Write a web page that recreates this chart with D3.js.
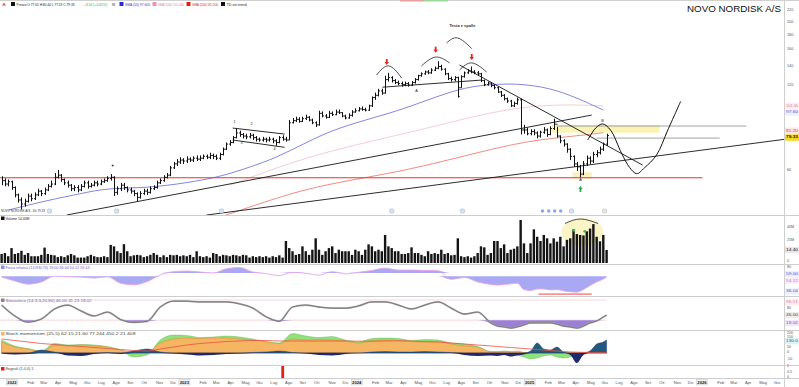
<!DOCTYPE html>
<html>
<head>
<meta charset="utf-8">
<title>NOVO NORDISK A/S</title>
<script src="https://cdn.jsdelivr.net/npm/d3@7.9.0/dist/d3.min.js"></script>
<style>
  html, body { margin: 0; padding: 0; background: #fff; }
  svg { display: block; font-family: "Liberation Sans", Arial, sans-serif; }
</style>
</head>
<body>
<svg id="chart" width="799" height="387"></svg>
<script>
// weekly bars, first one on 10 Dec 2021
const closes = [
  55,53.5,54.5,52,49,47,45.5,46.5,48.5,47.5,
  49,50.5,49.5,51,52.5,53.5,56.5,57.5,55.5,54,
  53,51.5,52,51,52.5,54,52.5,53,54,53.5,
  54.5,55,56,56.5,50,51.5,53,52,51,50.5,
  49.5,48,49.5,50.5,50,51.5,52,54,55,56.5,
  57.5,61,63,64,65,64.5,65.5,65,66,65.5,
  66,67,66.5,67.5,67,66,68,71,74,75,
  78,81,80,79,78.5,79.5,78,77,76.5,77,
  76.5,77,76,75,78,77,76.5,88,89.5,90.5,
  89,91,92,90,88,86.5,95,93,92,95,
  94,96,95.5,93,91.5,93.5,96,97,98.5,98,
  97.5,101,108,110,114,112,125,127,124,122,
  121,120,121,119.5,122,125,129,131,133,132,
  135,137,139,136,131,126,125,127,117,128,
  132,134,133,132,131,124,120,121.5,119,117,
  113,110,107,105,101,103,106,83,83,80.5,
  82,81,79,81.5,83,80,84,87,79,76,
  74,71,67,63,61.5,58,63,66,64.5,68,
  69,71,74,79.33
];
const highs = [
  57,56,55.5,55,52.5,49.5,48,47.5,49.5,49.5,
  50,51.5,51,52,53.5,55,58.5,60,58,56,
  55,53.5,53,53,53.5,55,55,54,55,55,
  55.5,56,57,58,57,52.5,54,54,52.5,52,
  51,50,50.5,51.5,51.5,52.5,53,55,56,57.5,
  58.5,62,64,65.5,66.5,66,67,66.5,67,67.5,
  67.5,68,68,69,68.5,68,69,72,75,76.5,
  79,84,82.5,81,80.5,81,80.5,79,78,78.5,
  78,78.5,78,77,79,79.5,78.5,90,91.5,92.5,
  92,92.5,94,93,91,89,97,96.5,94.5,97,
  96.5,98,98,96,94,95,97.5,99,100,100.5,
  99.5,102,109,112.5,116,116,129,132,128.5,125.5,
  124,123,123,122.5,123.5,126.5,130,132.5,134.5,135,
  137,139,145,141,137,132,128,128.5,128,129.5,
  133.5,136,139,135,134,132,125,123,122.5,120,
  118,114,111,108,106,104.5,108,107,86.5,84.5,
  83.5,83.5,82,82.5,85,84,85.5,91,85,79.5,
  77,74.5,71.5,67.5,64,62.5,64.5,67.5,67,69.5,
  70.5,72.5,75,80.5
];
const lows = [
  53,52.5,52.5,51,48,46,43.5,44.5,46,46.5,
  47,48.5,48.5,49,50.5,52,53,56,54.5,53,
  52,50.5,50.5,50,50.5,52,51.5,52,52.5,52.5,
  53,54,54.5,55,48.5,49,50.5,51,50,49.5,
  48.5,46.5,47.5,49,49,49.5,51,51.5,53.5,54.5,
  56,57,60.5,62,63,63,63.5,64,64,64.5,
  64.5,65.5,65.5,65.5,65.5,65,65,67.5,70.5,73,
  74.5,77.5,78.5,77.5,77,77.5,76.5,75.5,75.5,75.5,
  75,75.5,74.5,73,74.5,76,75.5,76.5,87.5,88.5,
  88,88.5,90,89,87,85,86,92,91,91.5,
  93,93.5,94.5,92,90.5,91,92.5,95.5,96.5,97,
  96.5,97,100,106,109,110.5,111.5,123,122,120.5,
  119.5,118,118.5,118,118.5,121,124,128,130,130.5,
  131,134,136,134.5,129.5,124.5,123,123.5,108,117,
  127,131,131.5,130.5,129,122.5,118.5,119,117.5,115.5,
  112,108.5,105.5,103.5,100,100,102,80,80.5,79.5,
  79.5,79.5,77.5,78,80.5,78.5,79.5,83,78,74.5,
  72.5,69,65,61.5,59.5,56.5,57.5,62,63,63.5,
  66.5,68,70,73
];
// volume in millions
const volumes = [
  10,11,7.5,16.5,10,11,13.5,9,11,7.5,
  7.5,7.5,9,17,10,9,8.5,6.5,7.5,6.5,
  8.5,10,8.5,6,6,6,7.5,9,7.5,6.5,
  6.5,7.5,6.5,20,18.4,13,11,20.8,13,7.5,
  8.5,9,8.5,6.5,7.5,9,11,9,6.5,8.5,
  6.5,9,8.5,9,7.5,8.5,7.5,9,6.5,13,
  7.5,6.5,7.5,6,11,10,7.5,9,8.5,7.5,
  9,8.5,7.5,9,8.5,6,7.5,6.5,7.5,6.5,
  7.5,6,7.5,6.5,8.5,6,24.3,16.5,13,9,
  10,18.4,13,9,14.7,27.3,14.7,9,13,16.5,
  18.4,11,14.7,13,13,13,9,14.7,13,9,
  14.7,20.6,18.4,13,14.7,13,31,18.4,16.5,13,
  13,10,10,11,17.3,11,11,9,7.5,13,
  10,11,10,14.7,10,11,8.5,9,27.3,7.5,
  6.5,7.5,6,7.5,11,18.4,17.3,9,11,24.3,
  24.3,16.5,20.6,11,14.7,15.8,18.4,47.5,21.7,11,
  21.7,37.2,29,24.3,31,27.3,21.7,27.3,23.6,29,
  18.4,25.6,27.3,37.2,32,31,30.5,35,38,43,
  29,24,31,14.4
];

// oscillators, read at these bar indices
const oscIdx = d3.range(0, 149, 4).concat(d3.range(150, 183, 2), [183]);
const rsi = [
  59,47,37,44,62,60,59,56,60,40,35,45,66,76,78,75,72,85,89,75,
  70,64,74,71,65,76,69,74,80,87,81,81,80,79,52,58,44,36,
  34,36,38,40,20,17,22,22,19,20,16,13,12,20,33,44,53,59
];
const stoch = [
  82,43,21,32,68,82,61,43,57,30,20,24,75,96,96,93,93,93,86,71,
  40,24,75,82,75,71,71,79,93,93,82,68,82,93,71,50,57,18,
  7,4,0,4,11,18,18,18,18,14,7,4,0,7,18,25,39,46
];
const momOrange = [
  110,60,40,15,75,70,80,70,60,30,10,10,100,140,150,145,150,150,140,130,
  110,95,140,130,135,130,120,100,120,130,125,115,110,110,90,70,60,10,
  10,15,15,20,5,0,0,0,0,0,0,0,0,5,10,10,10,10
];
const momGreen = [
  130,70,45,20,95,80,85,80,65,30,-40,-20,130,180,175,155,160,170,160,140,
  115,100,195,170,155,165,130,110,145,150,145,125,135,130,100,90,65,15,
  15,20,10,-20,-40,-60,-50,-30,-20,-40,-50,-40,-20,0,0,0,0,0
];
const momNavy = [
  -5,-15,-10,30,10,-25,-30,-10,5,-10,20,40,10,-5,-15,-25,-20,-10,-5,5,
  10,20,5,-5,-20,-25,-10,0,10,15,10,10,15,10,5,-20,-30,-25,
  -30,-20,-35,-25,-15,20,100,40,30,60,10,-20,-100,-20,20,90,110,130
];
const momRed = [
  140,125,110,95,85,75,65,55,45,35,25,20,40,60,80,95,105,115,120,125,
  125,120,120,120,120,120,120,118,118,120,122,120,115,110,100,90,80,70,
  65,60,55,50,45,40,35,30,25,20,15,10,8,6,5,5,5,5
];
const signalBars = [85];

// moving averages [bar index, price]
const sma50 = [[2,43.3],[14,46.9],[24,49.5],[32,51.8],[44,51.8],[56,54],[66,56.7],[75,61.3],[83,66.2],[92,74.8],
  [100,82.9],[110,90],[120,97.1],[128,105],[136,113.5],[144,119.6],[156,121.5],[166,116.7],[174,107.8],[182,97.6]];
const sma100 = [[69,53],[84,61.7],[100,70.5],[120,79.6],[136,88.5],[151,97.6],[166,102.5],[182,101]];
const sma200 = [[62,39.5],[68,41.6],[81,46.9],[96,53],[120,58.8],[141,67.7],[156,74.6],[166,77.5],[176,79.6],[182,81.2]];

// drawn studies [bar index, price]
const trendLines = [
  [[19.7,41.6],[178.5,93.7]],
  [[62,41.6],[237.4,77.1]],
  [[138.5,140.7],[193.9,62.4]],
  [[115.2,117.5],[145.2,124.5]],
  [[69.9,84.3],[85.6,80.3]],
  [[69.9,76.5],[85.6,72.1]]
];
const supportLine = [[-1,56.3],[212,56.3]];
const grayLevels = [[[167.9,85.7],[225.3,85.7]], [[180,77.7],[217.2,77.7]]];
const zoneBand = [[166.4,81.2],[199,86.4]];
const zoneLow = [[172.7,56],[178.5,58.9]];
const projection = [[177.3,76.5],[179.7,84.3],[181.8,87.2],[184.2,82.9],[187.5,68.8],[190,61.1],
  [192.1,58.2],[194.5,61.1],[198.1,67.7],[201.5,82.9],[205.4,104.7]];
const arcs = [
  [[113.4,129.7],[117.1,139.7],[121,126.6]],
  [[127,139.7],[131.3,150.1],[135.5,143.1]],
  [[138.5,135.1],[142.2,143.1],[146.7,133]],
  [[134.6,168.3],[137.9,175.3],[142.2,160.8]]
];
const downArrows = [[116.5,140.7],[131.3,155.5],[142.2,146.5]];
const upArrows = [[175.1,52.6]];
const marks = [["A",125.5,113.9],["•",138.5,108.3],["A",175.1,55.3],["B",181.8,89.3],["▼",33.6,62],
  ["1",70.5,88.5],["2",75.6,86.9],["3",72.6,74.6],["4",82.6,71]];
const studyTitle = ["Testa e spalle", 139.4, 191.9];
const rsiDivergence = [[162.4,6],[178.5,6]];
const events = [[14.5,"d"],[34.8,"d"],[66.5,"d"],[118,"d"],[139.4,"d"],[163.6,"e"],[165.5,"e"],[167.3,"e"],[169.1,"e"],[172.4,"d"],[182.4,"g"]];

const priceTicks = [220,200,180,160,140,120,60];
const monthNames = ["Gen","Feb","Mar","Apr","Mag","Giu","Lug","Ago","Set","Ott","Nov","Dic"];

// ---------------------------------------------------------------
const svg = d3.select("#chart");
const plotR = 784;
const firstBar = new Date(2021, 11, 10);
const x = d3.scaleTime().domain([new Date(2022, 0, 1), new Date(2026, 0, 1)]).range([12, 702]);
const xi = i => x(new Date(firstBar.getTime() + i * 7 * 864e5));

const yP = d3.scaleLog().domain([41.6, 223.6]).range([215, 8]);
const yV = d3.scaleLinear().domain([0, 42]).range([263, 225]);
const yR = d3.scaleLinear().domain([0, 100]).range([296, 264]);
const yS = d3.scaleLinear().domain([0, 100]).range([328, 300]);
const yM = d3.scaleLinear().domain([-100, 200]).range([363, 333]);
const yG = d3.scaleLinear().domain([0, 1]).range([378, 366]);

const defs = svg.append("defs");
function clip(id, y0, y1) {
  defs.append("clipPath").attr("id", id).append("rect")
    .attr("x", 0).attr("y", y0).attr("width", plotR).attr("height", y1 - y0);
  return svg.append("g").attr("clip-path", `url(#${id})`);
}

function txt(g, px, py, s, o = {}) {
  const t = g.append("text").attr("x", px).attr("y", py).text(s)
    .attr("font-size", o.size || 4.2).attr("fill", o.fill || "#333");
  if (o.anchor) t.attr("text-anchor", o.anchor);
  if (o.weight) t.attr("font-weight", o.weight);
  if (o.len) t.attr("textLength", o.len).attr("lengthAdjust", "spacingAndGlyphs");
  if (o.mid) t.attr("dominant-baseline", "middle");
  return t;
}

// top strip
svg.append("line").attr("x1", 0).attr("x2", 799).attr("y1", 0.5).attr("y2", 0.5).attr("stroke", "#d0d0d0");
svg.append("rect").attr("x", 400).attr("y", 0).attr("width", 24).attr("height", 1.5).attr("fill", "#e9a0a0");
svg.append("rect").attr("x", 424).attr("y", 0).attr("width", 24).attr("height", 1.5).attr("fill", "#9fd49a");

// ---------- main price panel ----------
const main = clip("cMain", 8, 215);
const pt = d3.line().x(d => xi(d[0])).y(d => yP(d[1]));

main.append("rect")
  .attr("x", xi(zoneBand[0][0])).attr("width", xi(zoneBand[1][0]) - xi(zoneBand[0][0]))
  .attr("y", yP(zoneBand[1][1])).attr("height", yP(zoneBand[0][1]) - yP(zoneBand[1][1]))
  .attr("fill", "#fbf3b4");
main.append("rect")
  .attr("x", xi(zoneLow[0][0])).attr("width", xi(zoneLow[1][0]) - xi(zoneLow[0][0]))
  .attr("y", yP(zoneLow[1][1])).attr("height", yP(zoneLow[0][1]) - yP(zoneLow[1][1]))
  .attr("fill", "#fbefc0");

const maLine = d3.line().x(d => xi(d[0])).y(d => yP(d[1])).curve(d3.curveBasis);
main.append("path").attr("d", maLine(sma100)).attr("fill", "none").attr("stroke", "#f6cdd3").attr("stroke-width", 1);
main.append("path").attr("d", maLine(sma200)).attr("fill", "none").attr("stroke", "#f28b80").attr("stroke-width", 1);
main.append("path").attr("d", maLine(sma50)).attr("fill", "none").attr("stroke", "#8585e0").attr("stroke-width", 1);

main.append("path").attr("d", pt(supportLine)).attr("stroke", "#e8352c").attr("stroke-width", 1.2);
grayLevels.forEach(l => main.append("path").attr("d", pt(l)).attr("stroke", "#8d8d8d").attr("stroke-width", 0.8));
trendLines.forEach(l => main.append("path").attr("d", pt(l)).attr("stroke", "#151515").attr("stroke-width", 0.9));

// OHLC bars (open = previous close)
main.append("g").attr("stroke", "#111").attr("stroke-width", 1).attr("fill", "none")
  .selectAll("path").data(closes).join("path")
  .attr("d", (c, i) => {
    const cx = Math.round(xi(i)) + 0.5;
    let d = `M${cx},${yP(highs[i])}V${yP(lows[i])}M${cx},${yP(c)}H${cx + 1.4}`;
    if (i > 0) d += `M${cx - 1.4},${yP(closes[i - 1])}H${cx}`;
    return d;
  });

main.append("path").attr("d", d3.line().x(d => xi(d[0])).y(d => yP(d[1])).curve(d3.curveCatmullRom)(projection))
  .attr("fill", "none").attr("stroke", "#111").attr("stroke-width", 1);
arcs.forEach(a => main.append("path").attr("d", d3.line().x(d => xi(d[0])).y(d => yP(d[1])).curve(d3.curveNatural)(a))
  .attr("fill", "none").attr("stroke", "#222").attr("stroke-width", 0.8));

main.selectAll("path.dn").data(downArrows).join("path").attr("class", "dn")
  .attr("transform", d => `translate(${xi(d[0])},${yP(d[1])})`)
  .attr("d", "M0,0L-2.2,-3H-0.9V-6H0.9V-3H2.2Z").attr("fill", "#e5231b");
main.selectAll("path.up").data(upArrows).join("path").attr("class", "up")
  .attr("transform", d => `translate(${xi(d[0])},${yP(d[1])})`)
  .attr("d", "M0,0L-2.2,3H-0.9V6H0.9V3H2.2Z").attr("fill", "#2ea84a");
marks.forEach(m => txt(main, xi(m[1]), yP(m[2]), m[0], { size: 3.8, fill: "#222", anchor: "middle", mid: true }));
txt(main, xi(studyTitle[1]), yP(studyTitle[2]), studyTitle[0], { size: 3.8, fill: "#333", anchor: "middle", weight: "bold", len: 26 });

// event icons on the price panel bottom
events.forEach(e => {
  const ex = xi(e[0]);
  if (e[1] === "e") main.append("circle").attr("cx", ex).attr("cy", 211).attr("r", 1.7).attr("fill", "#86a9e8");
  else main.append("rect").attr("x", ex - 2).attr("y", 209).attr("width", 4).attr("height", 4).attr("rx", 0.8)
    .attr("fill", e[1] === "g" ? "#e6e6e6" : "#dbe3ef").attr("stroke", e[1] === "g" ? "#bbb" : "#9fb0c8").attr("stroke-width", 0.5);
});

txt(svg, 1, 212, "NOVO NORDISK A/S - Dk   79.33", { size: 3.4, fill: "#333", len: 44 });

// ---------- volume ----------
const vol = clip("cVol", 215, 264);
vol.append("ellipse").attr("cx", xi(175.7)).attr("cy", yV(34.3)).attr("rx", 21).attr("ry", 14).attr("fill", "#fbf4c6");
vol.append("g").attr("fill", "#151515").selectAll("rect").data(volumes).join("rect")
  .attr("x", (v, i) => xi(i) - 1.2).attr("width", 2.4)
  .attr("y", v => yV(v)).attr("height", v => yV(0) - yV(v));
vol.append("path").attr("d", d3.line().curve(d3.curveNatural)([[xi(170.4), 223.5], [xi(175.1), 219], [xi(180.4), 223.5]]))
  .attr("fill", "none").attr("stroke", "#222").attr("stroke-width", 0.8);
[[173.1, 36], [176.4, 35]].forEach(p => vol.append("circle").attr("cx", xi(p[0])).attr("cy", yV(p[1])).attr("r", 1.4).attr("fill", "#3cb94a"));

// ---------- RSI-like ----------
const rsiG = clip("cRsi", 264, 296);
const rsiPts = oscIdx.map((k, j) => [k, rsi[j]]);
const rsiUp = 72, rsiLo = 62;
rsiG.append("path").attr("fill", "#a9a9f3")
  .attr("d", d3.area().x(d => xi(d[0])).y0(yR(rsiUp)).y1(d => yR(Math.max(d[1], rsiUp))).curve(d3.curveMonotoneX)(rsiPts));
rsiG.append("path").attr("fill", "#a9a9f3")
  .attr("d", d3.area().x(d => xi(d[0])).y0(yR(rsiLo)).y1(d => yR(Math.min(d[1], rsiLo))).curve(d3.curveMonotoneX)(rsiPts));
rsiG.append("path").attr("fill", "none").attr("stroke", "#e8a3e6").attr("stroke-width", 0.9)
  .attr("d", d3.line().x(d => xi(d[0])).y(d => yR(d[1])).curve(d3.curveMonotoneX)(rsiPts));
rsiG.append("path").attr("stroke", "#e8322c").attr("stroke-width", 0.9)
  .attr("d", d3.line().x(d => xi(d[0])).y(d => yR(d[1]))(rsiDivergence));

// ---------- stochastic ----------
const stG = clip("cSt", 296, 330);
const stPts = oscIdx.map((k, j) => [k, stoch[j]]);
const stLo = 28;
[stLo, 100].forEach(l => stG.append("line").attr("x1", 0).attr("x2", xi(183)).attr("y1", yS(l)).attr("y2", yS(l))
  .attr("stroke", "#f3c4c8").attr("stroke-width", 0.7));
stG.append("path").attr("fill", "#9c80d8")
  .attr("d", d3.area().x(d => xi(d[0])).y0(yS(stLo)).y1(d => yS(Math.min(d[1], stLo))).curve(d3.curveMonotoneX)(stPts));
const stLine = d3.line().x(d => xi(d[0])).y(d => yS(d[1])).curve(d3.curveMonotoneX);
stG.append("path").attr("fill", "none").attr("stroke", "#a4a4a4").attr("stroke-width", 1.8).attr("d", stLine(stPts));
stG.append("path").attr("fill", "none").attr("stroke", "#555").attr("stroke-width", 0.5).attr("d", stLine(stPts));

// ---------- momentum ----------
const moG = clip("cMo", 330, 365);
const mo = key => oscIdx.map((k, j) => [k, key[j]]);
const moArea = f => d3.area().x(d => xi(d[0])).y0(yM(0)).y1(d => yM(f(d[1]))).curve(d3.curveMonotoneX);
moG.append("path").attr("fill", "#8fe17b").attr("stroke", "#5fb24f").attr("stroke-width", 0.4).attr("d", moArea(v => v)(mo(momGreen)));
moG.append("path").attr("fill", "#f5b562").attr("stroke", "#d98a2c").attr("stroke-width", 0.5).attr("d", moArea(v => v)(mo(momOrange)));
moG.append("path").attr("fill", "#1d2b6e").attr("d", moArea(v => Math.min(v, 0))(mo(momNavy)));
moG.append("path").attr("fill", "#23597a").attr("stroke", "#1d2b6e").attr("stroke-width", 0.4).attr("d", moArea(v => Math.max(v, 0))(mo(momNavy)));
moG.append("path").attr("fill", "none").attr("stroke", "#e8503f").attr("stroke-width", 0.8)
  .attr("d", d3.line().x(d => xi(d[0])).y(d => yM(d[1])).curve(d3.curveMonotoneX)(mo(momRed)));

// ---------- signal ----------
const sgG = clip("cSg", 365, 378);
sgG.selectAll("rect").data(signalBars).join("rect")
  .attr("x", d => xi(d) - 1.3).attr("width", 2.8).attr("y", yG(1) - 1).attr("height", yG(0) - yG(1) + 1).attr("fill", "#e5201a");

// ---------- separators, right axis ----------
[215, 264, 296, 330, 365, 378].forEach(yy => svg.append("line").attr("x1", 0).attr("x2", 799)
  .attr("y1", yy + 0.5).attr("y2", yy + 0.5).attr("stroke", "#cdcdcd").attr("stroke-width", 1));
svg.append("line").attr("x1", plotR + 0.5).attr("x2", plotR + 0.5).attr("y1", 0).attr("y2", 387).attr("stroke", "#cfcfcf");

const ax = svg.append("g");
priceTicks.forEach(p => txt(ax, 787, yP(p), String(p), { size: 3.8, fill: "#555", mid: true }));
function tag(yy, s, fill, bg, bold) {
  if (bg) ax.append("rect").attr("x", 785).attr("y", yy - 3.2).attr("width", 14).attr("height", 6.4).attr("fill", bg);
  txt(ax, 786, yy, s, { size: 3.6, fill, mid: true, weight: bold ? "bold" : null, len: 12 });
}
tag(yP(sma100[sma100.length - 1][1]), sma100[sma100.length - 1][1].toFixed(2), "#e07aa0", "#fdeef2");
tag(yP(sma50[sma50.length - 1][1]) + 2.5, sma50[sma50.length - 1][1].toFixed(2), "#4d4de0", "#eef0ff");
tag(yP(sma200[sma200.length - 1][1]) - 2, sma200[sma200.length - 1][1].toFixed(2), "#e0443a", "#fde6e4");
tag(yP(closes[closes.length - 1]) + 2, closes[closes.length - 1].toFixed(2), "#111", "#f6d820", true);

txt(ax, 787, yV(40), "40M", { size: 3.6, fill: "#555", mid: true });
txt(ax, 787, yV(25), "25M", { size: 3.6, fill: "#555", mid: true });
tag(yV(volumes[volumes.length - 1]), volumes[volumes.length - 1].toFixed(2), "#111", "#e8e8e8");
txt(ax, 787, yV(0) - 1.5, "0", { size: 3.6, fill: "#555", mid: true });

txt(ax, 787, yR(89), "80", { size: 3.6, fill: "#555", mid: true });
tag(yR(69), rsi[rsi.length - 1].toFixed(2), "#4d4de0", "#eef0ff");
tag(yR(48), "54.12", "#d070c8", "#fbecfa");
tag(yR(14), "36.04", "#4d4de0", "#eef0ff");

tag(yS(92), "96.51", "#e07aa0", "#fdeef2");
txt(ax, 787, yS(71), "80", { size: 3.6, fill: "#555", mid: true });
tag(yS(46), stoch[stoch.length - 1].toFixed(2), "#444", "#eeeeee");
tag(yS(18), "18.02", "#7a55c8", "#efe8fb");

txt(ax, 787, yM(195), "200", { size: 3.6, fill: "#555", mid: true });
txt(ax, 787, yM(160), "150", { size: 3.6, fill: "#555", mid: true });
tag(yM(118), momNavy[momNavy.length - 1].toFixed(1), "#1d6a80", "#dff3f5");
txt(ax, 787, yM(55), "50", { size: 3.6, fill: "#555", mid: true });
txt(ax, 787, yM(5), "0", { size: 3.6, fill: "#555", mid: true });
txt(ax, 787, yM(-60), "-50", { size: 3.6, fill: "#555", mid: true });

txt(ax, 787, yG(1) + 0.5, "1", { size: 3.6, fill: "#e5201a", mid: true });
txt(ax, 787, yG(0.5), "0.5", { size: 3.6, fill: "#555", mid: true });
txt(ax, 787, yG(0) - 1, "0", { size: 3.6, fill: "#555", mid: true });

// ---------- date axis ----------
const months = d3.timeMonth.range(new Date(2022, 0, 1), new Date(2026, 6, 1));
months.forEach(m => {
  const mx = x(m);
  if (m.getMonth() === 0) {
    ax.append("rect").attr("x", mx - 5.5).attr("y", 379.5).attr("width", 11).attr("height", 5.5)
      .attr("fill", "#f2f2f2").attr("stroke", "#bbb").attr("stroke-width", 0.4);
    txt(ax, mx, 383.7, String(m.getFullYear()), { size: 4.2, fill: "#222", anchor: "middle", weight: "bold" });
  } else {
    txt(ax, mx + 0.5, 383.7, monthNames[m.getMonth()], { size: 4.1, fill: "#555" });
  }
});

// ---------- headers / legends ----------
const hd = svg.append("g");
hd.append("path").attr("d", "M2,5.5L4,2.5L6,5.5Z").attr("fill", "#e06060");
hd.append("rect").attr("x", 11).attr("y", 2).attr("width", 4).attr("height", 4).attr("fill", "#111");
txt(hd, 16.5, 5.6, "Prezzo O:77.61 H:80.44 L:77.19 C:79.33", { size: 3.3, fill: "#222", len: 58 });
txt(hd, 84, 5.6, "+3.50 (+4.61%)", { size: 3.3, fill: "#3aa63a", len: 23 });
txt(hd, 112, 5.6, "W", { size: 3.3, fill: "#222" });
hd.append("rect").attr("x", 119.5).attr("y", 2).attr("width", 4).attr("height", 4).attr("fill", "#2b2bd0");
txt(hd, 125, 5.6, "SMA (50) " + sma50[sma50.length - 1][1].toFixed(3), { size: 3.3, fill: "#3b3bc8", len: 25 });
hd.append("rect").attr("x", 152.5).attr("y", 2).attr("width", 4).attr("height", 4).attr("fill", "#f08fb0");
txt(hd, 158, 5.6, "SMA (100) " + sma100[sma100.length - 1][1].toFixed(3), { size: 3.3, fill: "#e07aa0", len: 26 });
hd.append("rect").attr("x", 186.5).attr("y", 2).attr("width", 4).attr("height", 4).attr("fill", "#e0201a");
txt(hd, 192, 5.6, "SMA (200) " + sma200[sma200.length - 1][1].toFixed(3), { size: 3.3, fill: "#d0302a", len: 26 });
hd.append("rect").attr("x", 221).attr("y", 2).attr("width", 4).attr("height", 4).attr("fill", "#111");
txt(hd, 226.5, 5.6, "TD on trend", { size: 3.3, fill: "#222", len: 20 });

txt(svg, 781, 11.7, "NOVO NORDISK A/S", { size: 9.8, fill: "#111", anchor: "end", len: 94 });

hd.append("rect").attr("x", 1).attr("y", 216.5).attr("width", 3.5).attr("height", 3.5).attr("fill", "#111");
txt(hd, 5.5, 219.8, "Volume " + volumes[volumes.length - 1].toFixed(2) + "M", { size: 3.4, fill: "#222", len: 24 });
hd.append("rect").attr("x", 1).attr("y", 265.5).attr("width", 3.5).attr("height", 3.5).attr("fill", "#8c8ce8");
txt(hd, 5.5, 268.8, "Forza relativa (14,RSI,70) " + rsi[rsi.length - 1].toFixed(2) + " 36.04 54.12 59.43", { size: 3.4, fill: "#7a5acb", len: 84 });
hd.append("rect").attr("x", 1).attr("y", 298.5).attr("width", 3.5).attr("height", 3.5).attr("fill", "#888");
txt(hd, 5.5, 301.8, "Stocastico (14,3,3,20,80) " + stoch[stoch.length - 1].toFixed(2) + " 41.23 18.02", { size: 3.4, fill: "#7a5acb", len: 86 });
hd.append("rect").attr("x", 1).attr("y", 332).attr("width", 3.5).attr("height", 3.5).attr("fill", "#f5b562");
txt(hd, 5.5, 335.3, "Stoch momentum (25,5) 62.15  21.60  77.244  450.2  21.408", { size: 3.4, fill: "#444", len: 130 });
hd.append("rect").attr("x", 1).attr("y", 367).attr("width", 3.5).attr("height", 3.5).attr("fill", "#e5201a");
txt(hd, 5.5, 370.3, "Segnali (1,0,0) 1", { size: 3.4, fill: "#444", len: 28 });
</script>
</body>
</html>
